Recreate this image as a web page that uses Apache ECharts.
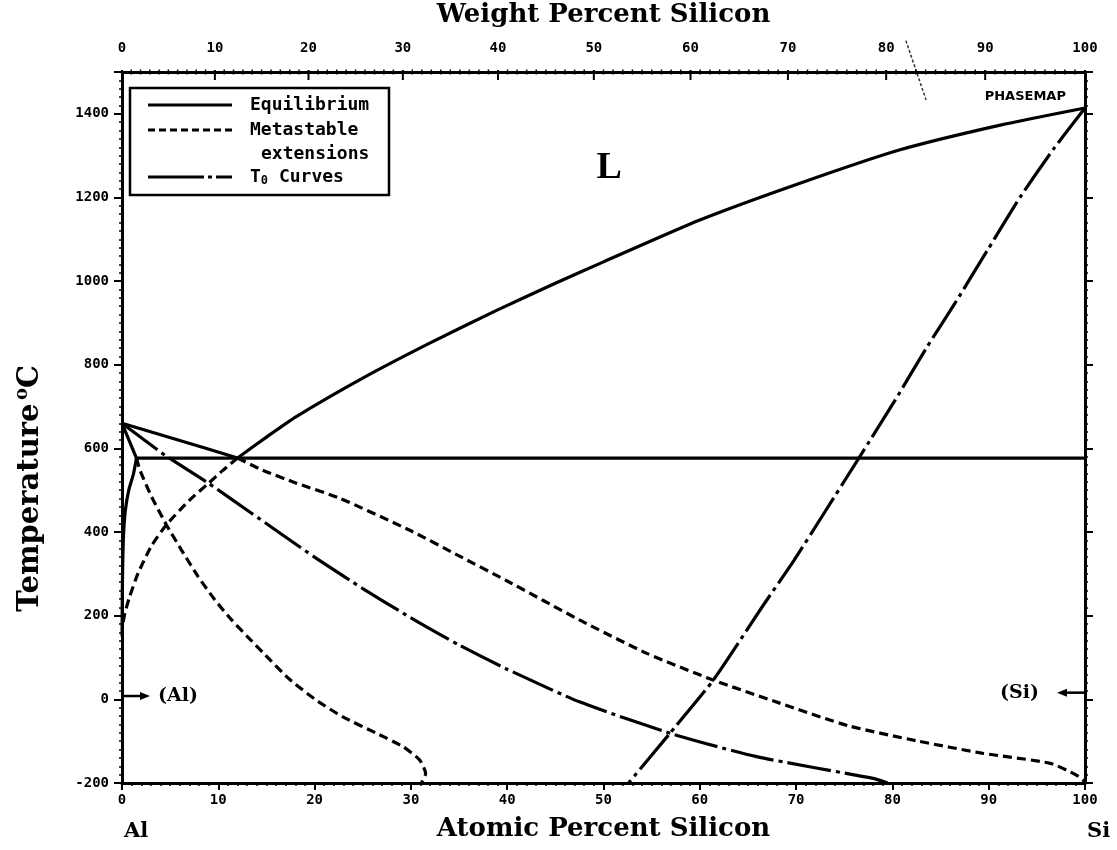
<!DOCTYPE html>
<html>
<head>
<meta charset="utf-8">
<title>Al–Si</title>
<script src="https://cdn.jsdelivr.net/npm/echarts@6/dist/echarts.min.js"></script>
<style>
  html, body { margin: 0; padding: 0; background: #fff; }
  #chart { width: 1117px; height: 850px; }
</style>
</head>
<body>
<div id="chart"></div>
<script>
// ---- Composition axis (atomic % Si) and temperature axis ----
const atomicTickLabels = ['0','10','20','30','40','50','60','70','80','90','100'];
const weightTickLabels = ['0','10','20','30','40','50','60','70','80','90','100'];
const tempTickLabels = ['-200','0','200','400','600','800','1000','1200','1400'];

// ---- Equilibrium boundaries [at.% Si, °C] ----
const alLiquidus = [[0,660],[6,619],[12,577]];
const siLiquidus = [[12,577],[15,627],[18.1,676],[25,768],[31.9,851],[38.9,930],[45,995],
                    [50,1046],[60,1146],[70.4,1234],[80.8,1314],[91.2,1373],[100,1414]];
const alSolidus = [[0,660],[1.5,577]];
const alSolvus = [[1.5,577],[1.2,540],[0.7,500],[0.35,452],[0.17,398],[0.08,330],[0.03,250],[0.01,150]];
const eutectic = [[1.5,577],[100,577]];

// ---- Metastable extensions ----
const metaSiLiquidus = [[12,577],[10.5,548],[9.0,517],[7.0,476],[4.6,417],[3.06,367],[1.68,302],
                        [0.8,246],[0.3,206],[0.05,175]];
const metaAlLiquidus = [[12,577],[14.6,548],[18.1,517],[22.6,481],[30,403],[35,343],[40,283],[47.5,190],
                        [54.5,110],[61.4,46],[68.3,-9],[75.4,-63],[82.5,-99],[89.4,-129],[96.4,-153],
                        [99.1,-181],[100,-197]];
const metaAlSolidus = [[1.5,577],[1.85,549],[3.06,485],[4.62,417],[6.18,357],[7.92,293],[9.64,238],
                       [11.38,190],[13.1,148],[14.63,112],[17.4,48],[20.18,-2],[22.94,-42],[26.41,-81],
                       [29.17,-113],[30.91,-145],[31.53,-177],[31.1,-200]];

// ---- T0 curves ----
const t0Al = [[0,660],[4.45,584],[8.96,517],[13.45,445],[20,340],[25,265],[30,195],[35,130],[40,72],
              [47.5,-6],[56.9,-81],[65.9,-137],[78,-189],[79.5,-200]];
const t0Si = [[100,1414],[96.8,1318],[93.3,1202],[89.9,1075],[86.6,951],[83.5,839],[80.3,716],
              [76.6,580],[72.9,445],[69.8,333],[66.5,222],[61.4,46],[56.9,-81],[52.6,-200]];

const X_MIN = 0, X_MAX = 100, Y_MIN = -200, Y_MAX = 1500;

// weight % Si -> atomic % Si (molar masses of Si and Al)
function atFromWt(w) {
  if (w <= 0) return 0;
  if (w >= 100) return 100;
  const nSi = w / 28.0855, nAl = (100 - w) / 26.9815;
  return 100 * nSi / (nSi + nAl);
}
// every whole weight percent gets a tick on the top axis
const weightTicks = [];
for (let w = 0; w <= 100; w++) weightTicks.push([atFromWt(w), w]);

const TICK_FONT = 'bold 14px "DejaVu Sans Mono"';
const SOLID = 'solid', DASHED = [9, 5], DASH_DOT = [44, 5, 4, 5];
const LW = 3.2;

function curve(name, data, type) {
  return {
    name, type: 'line', data, symbol: 'none', smooth: 0.2, silent: true,
    xAxisIndex: 0, yAxisIndex: 0,
    lineStyle: { color: '#000', width: LW, type, cap: 'butt' },
    z: 3
  };
}

const chart = echarts.init(document.getElementById('chart'), null, { renderer: 'canvas' });

const axisLine = { show: true, onZero: false, lineStyle: { color: '#000', width: 3 } };
const titleStyle = { color: '#000', fontFamily: 'DejaVu Serif', fontWeight: 'bold', fontSize: 26 };

chart.setOption({
  animation: false,
  backgroundColor: '#fff',
  grid: { left: 122, right: 32, top: 72, bottom: 67, containLabel: false, outerBoundsMode: 'none' },
  xAxis: [
    {
      type: 'value', position: 'bottom', min: X_MIN, max: X_MAX, interval: 10,
      axisLine, splitLine: { show: false },
      axisTick: { show: true, length: 7, lineStyle: { color: '#000', width: 2 } },
      minorTick: { show: true, splitNumber: 10, length: 3, lineStyle: { color: '#000', width: 1.5 } },
      axisLabel: {
        margin: 10, color: '#000', fontFamily: 'DejaVu Sans Mono', fontWeight: 'bold', fontSize: 14,
        formatter: (v) => atomicTickLabels[Math.round(v / 10)]
      },
      name: 'Atomic Percent Silicon', nameLocation: 'middle', nameGap: 33,
      nameTextStyle: titleStyle
    },
    {
      type: 'value', position: 'top', min: X_MIN, max: X_MAX,
      axisLine, splitLine: { show: false },
      axisTick: { show: false }, axisLabel: { show: false },
      name: 'Weight Percent Silicon', nameLocation: 'middle', nameGap: 44,
      nameTextStyle: titleStyle
    }
  ],
  yAxis: [
    {
      type: 'value', position: 'left', min: Y_MIN, max: Y_MAX, interval: 200,
      axisLine, splitLine: { show: false },
      axisTick: { show: true, length: 8, lineStyle: { color: '#000', width: 2 } },
      minorTick: { show: true, splitNumber: 10, length: 3, lineStyle: { color: '#000', width: 1.5 } },
      axisLabel: {
        margin: 13, color: '#000', fontFamily: 'DejaVu Sans Mono', fontWeight: 'bold', fontSize: 14,
        showMaxLabel: false,
        formatter: (v) => { const i = Math.round((v - Y_MIN) / 200); return v > 1400 ? '' : tempTickLabels[i]; }
      }
    },
    {
      type: 'value', position: 'right', min: Y_MIN, max: Y_MAX, interval: 200,
      axisLine, splitLine: { show: false },
      axisTick: { show: true, length: 8, lineStyle: { color: '#000', width: 2 } },
      minorTick: { show: true, splitNumber: 10, length: 3, lineStyle: { color: '#000', width: 1.5 } },
      axisLabel: { show: false }
    }
  ],
  series: [
    curve('Al liquidus', alLiquidus, SOLID),
    curve('Si liquidus', siLiquidus, SOLID),
    curve('Al solidus', alSolidus, SOLID),
    curve('Al solvus', alSolvus, SOLID),
    curve('Eutectic', eutectic, SOLID),
    curve('Metastable Si liquidus', metaSiLiquidus, DASHED),
    curve('Metastable Al liquidus', metaAlLiquidus, DASHED),
    curve('Metastable Al solidus', metaAlSolidus, DASHED),
    curve('T0 (Al)', t0Al, DASH_DOT),
    curve('T0 (Si)', t0Si, DASH_DOT),
    {
      // weight-percent scale along the top edge
      name: 'Weight percent ticks', type: 'custom', data: weightTicks, clip: false, silent: true,
      xAxisIndex: 0, yAxisIndex: 0, encode: { x: 0 }, z: 5,
      renderItem: (params, api) => {
        const w = api.value(1);
        const p = api.coord([api.value(0), Y_MAX]);
        const major = w % 10 === 0;
        const children = [{
          type: 'line',
          shape: { x1: p[0], y1: p[1] - (major ? 2 : 2.5), x2: p[0], y2: p[1] + (major ? 8 : 2.5) },
          style: { stroke: '#000', lineWidth: major ? 2 : 1.5 }
        }];
        if (major) {
          children.push({
            type: 'text', x: p[0], y: p[1] - 24,
            style: { text: weightTickLabels[w / 10], align: 'center', verticalAlign: 'middle',
                     font: TICK_FONT, fill: '#000' }
          });
        }
        return { type: 'group', children };
      }
    }
  ]
});

// ---- Annotations placed through the chart's own coordinate system ----
const px = (a, t) => chart.convertToPixel({ gridIndex: 0 }, [a, t]);
const pL = px(50.6, 1270);
const pAl = px(0, 8);
const pSi = px(100, 16);
const pMap = px(93.8, 1440);
const pPtrA = px(81.4, 1575), pPtrB = px(83.5, 1433);
const pBL = px(0, Y_MIN);
const pBR = px(100, Y_MIN);
const pAxisMid = px(0, 600);

const serifBold = (size) => `bold ${size}px "DejaVu Serif"`;
const legendFont = 'bold 18px "DejaVu Sans Mono"';

const graphics = [
  // phase label
  { type: 'text', x: pL[0], y: pL[1], style: { text: 'L', font: 'bold 38px "Liberation Serif"', fill: '#000', align: 'center', verticalAlign: 'middle' } },
  // (Al) terminal solid solution
  { type: 'line', shape: { x1: pAl[0] + 1, y1: pAl[1], x2: pAl[0] + 22, y2: pAl[1] }, style: { stroke: '#000', lineWidth: 2.5 } },
  { type: 'polygon', shape: { points: [[pAl[0] + 18, pAl[1] - 4], [pAl[0] + 28, pAl[1]], [pAl[0] + 18, pAl[1] + 4]] }, style: { fill: '#000' } },
  { type: 'text', x: pAl[0] + 36, y: pAl[1], style: { text: '(Al)', font: serifBold(19), fill: '#000', align: 'left', verticalAlign: 'middle' } },
  // (Si) terminal solid solution
  { type: 'line', shape: { x1: pSi[0] - 1, y1: pSi[1], x2: pSi[0] - 22, y2: pSi[1] }, style: { stroke: '#000', lineWidth: 2.5 } },
  { type: 'polygon', shape: { points: [[pSi[0] - 18, pSi[1] - 4], [pSi[0] - 28, pSi[1]], [pSi[0] - 18, pSi[1] + 4]] }, style: { fill: '#000' } },
  { type: 'text', x: pSi[0] - 46, y: pSi[1], style: { text: '(Si)', font: serifBold(19), fill: '#000', align: 'right', verticalAlign: 'middle' } },
  // source mark and pointer
  { type: 'text', x: pMap[0], y: pMap[1], style: { text: 'PHASEMAP', font: 'bold 13px "DejaVu Sans"', fill: '#000', align: 'center', verticalAlign: 'middle' } },
  { type: 'line', shape: { x1: pPtrA[0], y1: pPtrA[1], x2: pPtrB[0], y2: pPtrB[1] }, style: { stroke: '#333', lineWidth: 1.5, lineDash: [3, 2] } },
  // pure components under the composition axis
  { type: 'text', x: pBL[0] + 2, y: pBR[1] + 49, style: { text: 'Al', font: serifBold(21), fill: '#000', align: 'left', verticalAlign: 'middle' } },
  { type: 'text', x: pBR[0] + 2, y: pBR[1] + 49, style: { text: 'Si', font: serifBold(21), fill: '#000', align: 'left', verticalAlign: 'middle' } },
  // temperature axis title
  {
    type: 'text', x: 30, y: pAxisMid[1] + 40, rotation: Math.PI / 2,
    style: {
      text: '{t|Temperature} {s|o}{t|C}', align: 'center', verticalAlign: 'middle', fill: '#000',
      rich: {
        t: { font: serifBold(29), fill: '#000' },
        s: { font: serifBold(18), fill: '#000', padding: [0, 0, 16, 0] }
      }
    }
  },
  // legend box
  { type: 'rect', shape: { x: 130, y: 88, width: 259, height: 107 }, style: { fill: '#fff', stroke: '#000', lineWidth: 2.5 }, z: 10 },
  { type: 'line', shape: { x1: 148, y1: 105, x2: 232, y2: 105 }, style: { stroke: '#000', lineWidth: LW }, z: 11 },
  { type: 'line', shape: { x1: 148, y1: 130, x2: 232, y2: 130 }, style: { stroke: '#000', lineWidth: LW, lineDash: [7, 4] }, z: 11 },
  { type: 'line', shape: { x1: 148, y1: 177, x2: 232, y2: 177 }, style: { stroke: '#000', lineWidth: LW, lineDash: [56, 4, 4, 4, 30] }, z: 11 },
  { type: 'text', x: 250, y: 105, style: { text: 'Equilibrium', font: legendFont, fill: '#000', verticalAlign: 'middle' }, z: 11 },
  { type: 'text', x: 250, y: 130, style: { text: 'Metastable', font: legendFont, fill: '#000', verticalAlign: 'middle' }, z: 11 },
  { type: 'text', x: 261, y: 154, style: { text: 'extensions', font: legendFont, fill: '#000', verticalAlign: 'middle' }, z: 11 },
  {
    type: 'text', x: 250, y: 177, z: 11,
    style: {
      text: '{a|T}{b|0}{a| Curves}', verticalAlign: 'middle', fill: '#000',
      rich: { a: { font: legendFont, fill: '#000' }, b: { font: 'bold 12px "DejaVu Sans Mono"', fill: '#000', padding: [8, 0, 0, 0] } }
    }
  }
];

chart.setOption({ graphic: graphics });
</script>
</body>
</html>
